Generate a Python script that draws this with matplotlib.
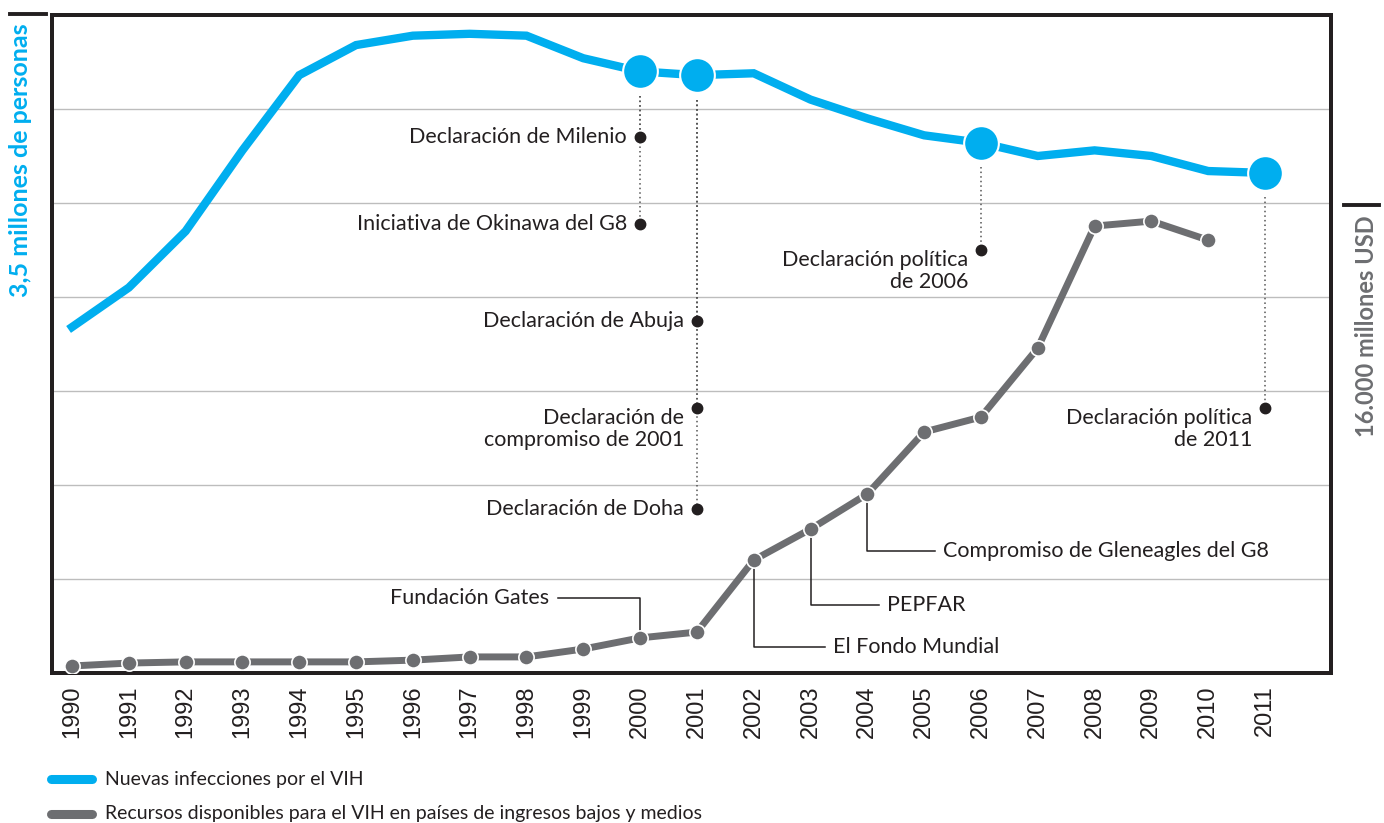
import matplotlib
matplotlib.use("Agg")
import matplotlib.pyplot as plt
from matplotlib.lines import Line2D

# ---------------- data ----------------
years = list(range(1990, 2012))
infections_m = [1.84, 2.05, 2.35, 2.78, 3.18, 3.34, 3.39, 3.40, 3.39, 3.27, 3.20,
                3.18, 3.19, 3.05, 2.95, 2.86, 2.82, 2.75, 2.78, 2.75, 2.67, 2.66]
res_years = list(range(1990, 2011))
resources_musd = [240, 340, 380, 380, 380, 380, 440, 550, 550, 820, 1200,
                  1400, 3860, 4920, 6120, 8240, 8750, 11110, 15280, 15450, 14800]

blue_marker_years = [2000, 2001, 2006, 2011]

# declarations hanging from the blue line: (year, dot level in millions, label)
declarations = [
    (2000, 2.85, "Declaración de Milenio"),
    (2000, 2.39, "Iniciativa de Okinawa del G8"),
    (2001, 1.87, "Declaración de Abuja"),
    (2001, 1.41, "Declaración de\ncompromiso de 2001"),
    (2001, 0.87, "Declaración de Doha"),
    (2006, 2.25, "Declaración política\nde 2006"),
    (2011, 1.41, "Declaración política\nde 2011"),
]

# funding milestones on the grey line: (year, elbow level in M USD, end x year, label, side)
milestones = [
    (2000, 2560, 1998.55, "Fundación Gates", "left"),
    (2002, 890, 2003.25, "El Fondo Mundial", "right"),
    (2003, 2330, 2004.2, "PEPFAR", "right"),
    (2004, 4170, 2005.2, "Compromiso de Gleneagles del G8", "right"),
]

BLUE = "#00AEEF"
GREY = "#6D6E71"
DARK = "#231F20"
FONT = "Lato"
ANN_FS = 15.5

fig = plt.figure(figsize=(13.84, 8.23), dpi=100)
ax = fig.add_axes([52 / 1384, 1 - 673 / 823, (1331 - 52) / 1384, (673 - 15) / 823])
ax2 = ax.twinx()

ax.set_xlim(1989.648, 2012.162)
ax.set_ylim(0, 3.5)
ax2.set_ylim(0, 22496)

# grid
for g in [0.5, 1.0, 1.5, 2.0, 2.5, 3.0]:
    ax.axhline(g, color="#BDBDBD", lw=1.0, zorder=0)

# blue line
ax.plot(years, infections_m, color=BLUE, lw=6, solid_joinstyle="miter", zorder=3)
bm = [infections_m[years.index(y)] for y in blue_marker_years]
ax.plot(blue_marker_years, bm, "o", ms=25, color=BLUE, mec="white", mew=1.5, zorder=4)

# declarations
for yr, lvl, lab in declarations:
    top = infections_m[years.index(yr)]
    ax.plot([yr, yr], [top - 0.13, lvl], color="#555555", lw=1.1,
            linestyle=(0, (1, 2)), zorder=2)
    ax.plot([yr], [lvl], "o", ms=7.5, color=DARK, zorder=5)
    ax.text(yr - 0.23, lvl, lab, ha="right", va="top" if "\n" in lab else "center",
            fontsize=ANN_FS, color=DARK, family=FONT, linespacing=1.15,
            transform=ax.transData)

# grey line
ax2.plot(res_years, resources_musd, color=GREY, lw=5, solid_joinstyle="miter", zorder=3,
         marker="o", ms=11, mfc=GREY, mec="white", mew=1.2)

for yr, elbow, xend, lab, side in milestones:
    val = resources_musd[res_years.index(yr)]
    ax2.plot([yr, yr, xend], [val, elbow, elbow], color=DARK, lw=1.1, zorder=2)
    if side == "left":
        ax2.text(xend - 0.15, elbow, lab, ha="right", va="center", fontsize=ANN_FS,
                 color=DARK, family=FONT)
    else:
        ax2.text(xend + 0.14, elbow, lab, ha="left", va="center", fontsize=ANN_FS,
                 color=DARK, family=FONT)

# frame
for a in (ax, ax2):
    for s in a.spines.values():
        s.set_linewidth(2.8)
        s.set_color(DARK)
ax.set_yticks([])
ax2.set_yticks([])
ax.set_xticks(years)
ax.set_xticklabels([str(y) for y in years], rotation=90, fontsize=17,
                   family="Liberation Sans", color=DARK, va="top")
ax.tick_params(axis="x", length=0, pad=9)

# decoration: axis unit marks and labels
fig.add_artist(Line2D([10 / 1384, 46 / 1384], [1 - 14 / 823] * 2, color=DARK, lw=2.8))
fig.add_artist(Line2D([1344 / 1384, 1379 / 1384], [1 - 205 / 823] * 2, color=DARK, lw=2.8))
fig.text(21 / 1384, 1 - 23 / 823, "3,5 millones de personas", rotation=90, ha="center",
         va="top", color=BLUE, fontsize=18, fontweight="bold", family=FONT)
fig.text(1366 / 1384, 1 - 215 / 823, "16.000 millones USD", rotation=90, ha="center",
         va="top", color=GREY, fontsize=17, fontweight="bold", family=FONT)

# legend
for yy, col, lab in [(779, BLUE, "Nuevas infecciones por el VIH"),
                     (814, GREY, "Recursos disponibles para el VIH en países de ingresos bajos y medios")]:
    fig.add_artist(Line2D([51 / 1384, 92 / 1384], [1 - yy / 823] * 2, color=col, lw=6.5,
                          solid_capstyle="round"))
    fig.text(105 / 1384, 1 - yy / 823, lab, ha="left", va="center", fontsize=14,
             color=DARK, family=FONT)

fig.savefig("out.png", dpi=100)
